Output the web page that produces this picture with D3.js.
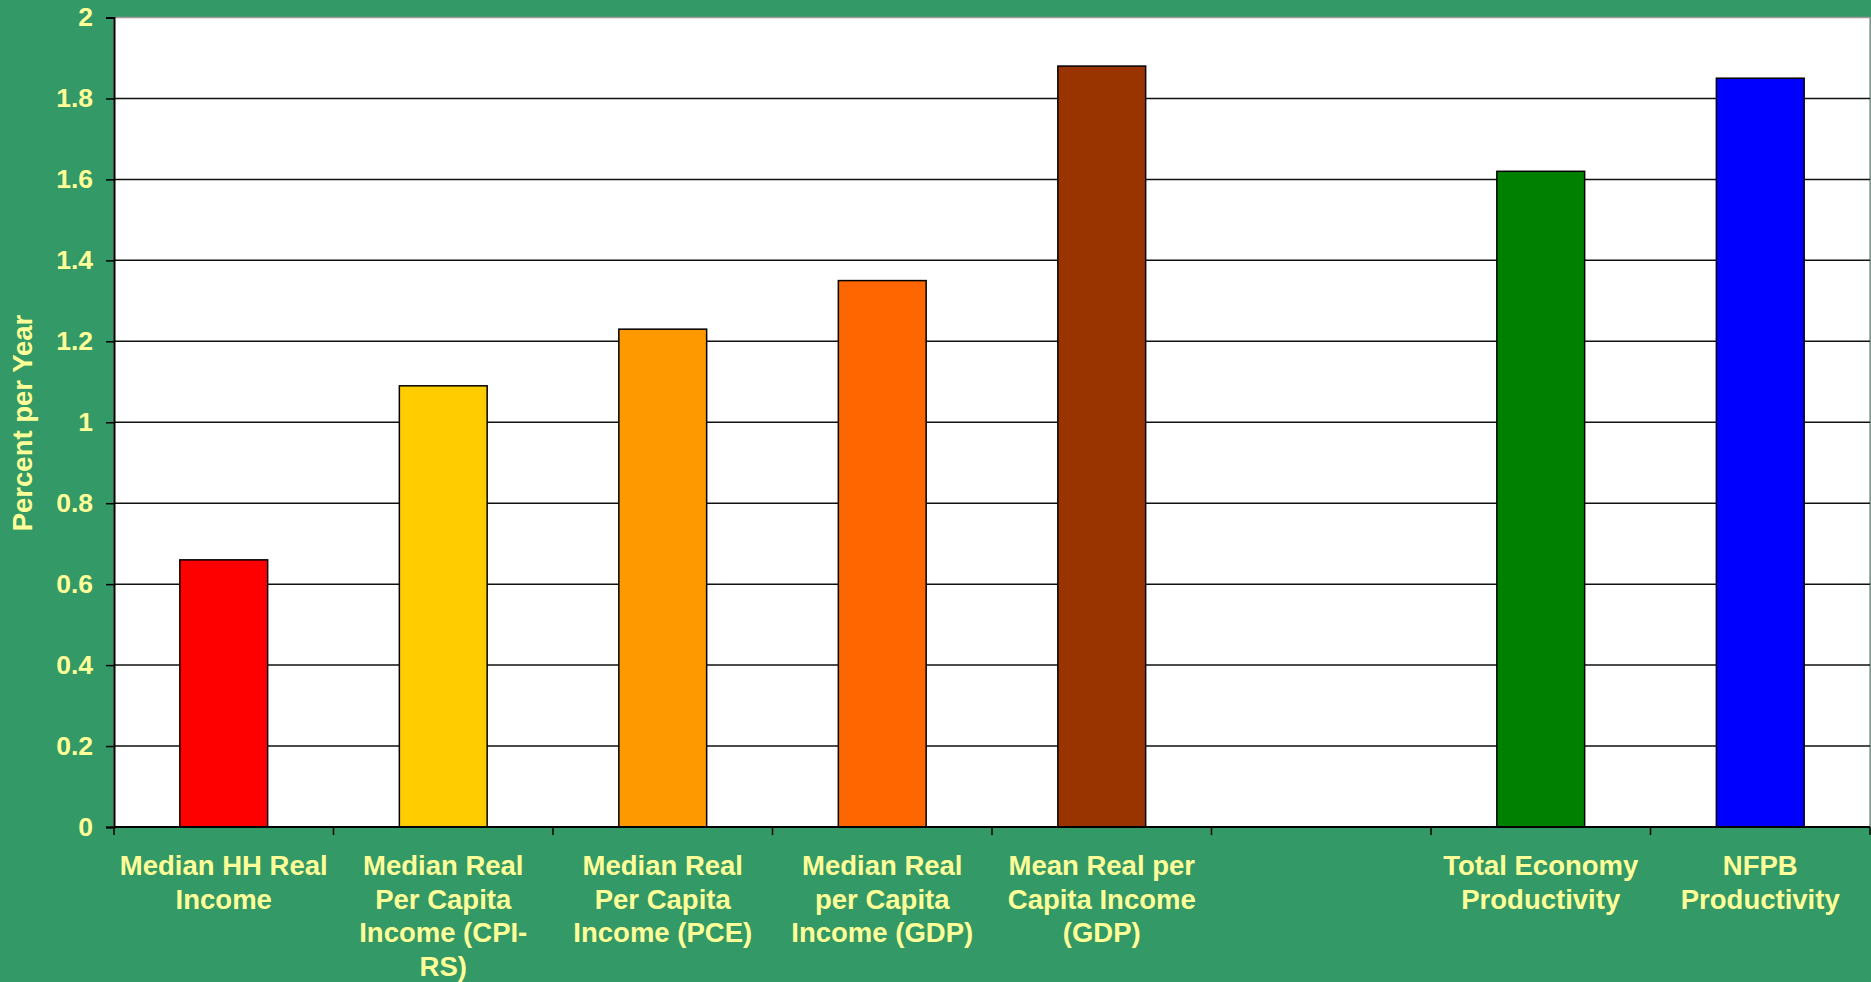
<!DOCTYPE html>
<html>
<head>
<meta charset="utf-8">
<script src="https://cdn.jsdelivr.net/npm/d3@7"></script>
<style>
  html, body { margin: 0; padding: 0; background: #339966; }
  svg { display: block; }
  text { font-family: "Liberation Sans", Arial, sans-serif; font-weight: bold; fill: #FFFF99; }
</style>
</head>
<body>
<svg id="chart"></svg>
<script>
const width = 1871;
const height = 982;

// categories (line breaks as in the original), values, bar colours
const categories = [
    "Median HH Real\nIncome",
    "Median Real\nPer Capita\nIncome (CPI-\nRS)",
    "Median Real\nPer Capita\nIncome (PCE)",
    "Median Real\nper Capita\nIncome (GDP)",
    "Mean Real per\nCapita Income\n(GDP)",
    "",
    "Total Economy\nProductivity",
    "NFPB\nProductivity"
];
const values = [0.66, 1.09, 1.23, 1.35, 1.88, null, 1.62, 1.85];
const colors = ["#FF0000", "#FFCC00", "#FF9900", "#FF6600", "#993300", null, "#008000", "#0000FF"];
const yTicks = [0, 0.2, 0.4, 0.6, 0.8, 1, 1.2, 1.4, 1.6, 1.8, 2];

const margin = { top: 17.5, right: 1, bottom: 155, left: 114 };

const svg = d3.select("#chart")
    .attr("width", width)
    .attr("height", height);

const x = d3.scaleBand()
    .domain(d3.range(categories.length))
    .range([margin.left, width - margin.right])
    .padding(0);

const y = d3.scaleLinear()
    .domain([0, 2])
    .range([height - margin.bottom, margin.top]);

// plot area
svg.append("rect")
    .attr("x", margin.left)
    .attr("y", margin.top)
    .attr("width", width - margin.right - margin.left)
    .attr("height", y(0) - margin.top)
    .attr("fill", "#fff")
    .attr("stroke", "#999")
    .attr("stroke-width", 1.5);

// gridlines
svg.append("g")
    .selectAll("line")
    .data(yTicks.filter(d => d > 0 && d < 2))
    .enter()
    .append("line")
    .attr("x1", margin.left)
    .attr("x2", width - margin.right)
    .attr("y1", d => y(d))
    .attr("y2", d => y(d))
    .attr("stroke", "#111")
    .attr("stroke-width", 1.5);

// bars
const barW = x.bandwidth() * 0.4;
svg.append("g")
    .selectAll("rect")
    .data(values.map((v, i) => ({ v, i })).filter(d => d.v !== null))
    .enter()
    .append("rect")
    .attr("x", d => x(d.i) + (x.bandwidth() - barW) / 2)
    .attr("y", d => y(d.v))
    .attr("width", barW)
    .attr("height", d => y(0) - y(d.v))
    .attr("fill", d => colors[d.i])
    .attr("stroke", "#000")
    .attr("stroke-width", 1.5);

// y axis
const yAxis = svg.append("g")
    .attr("transform", `translate(${margin.left},0)`)
    .call(d3.axisLeft(y)
        .tickValues(yTicks)
        .tickSize(8)
        .tickPadding(13)
        .tickFormat(d => String(+d.toFixed(1))));
yAxis.select(".domain").attr("stroke", "#000").attr("stroke-width", 2);
yAxis.selectAll(".tick line").attr("stroke", "#000").attr("stroke-width", 1.5);
yAxis.selectAll(".tick text")
    .attr("font-size", 26.5)
    .attr("fill", "#FFFF99")
    .style("font-family", "'Liberation Sans', Arial, sans-serif")
    .style("font-weight", "bold");

// x axis line with category boundary ticks
const xBase = y(0);
svg.append("line")
    .attr("x1", margin.left)
    .attr("x2", width - margin.right)
    .attr("y1", xBase)
    .attr("y2", xBase)
    .attr("stroke", "#000")
    .attr("stroke-width", 2);

svg.append("g")
    .selectAll("line")
    .data(d3.range(categories.length + 1))
    .enter()
    .append("line")
    .attr("x1", i => i < categories.length ? x(i) : width - margin.right)
    .attr("x2", i => i < categories.length ? x(i) : width - margin.right)
    .attr("y1", xBase)
    .attr("y2", xBase + 8)
    .attr("stroke", "#000")
    .attr("stroke-width", 1.5);

// category labels
const labels = svg.append("g")
    .selectAll("text")
    .data(categories.map((c, i) => ({ c, i })))
    .enter()
    .append("text")
    .attr("text-anchor", "middle")
    .attr("font-size", 27.5)
    .attr("x", d => x(d.i) + x.bandwidth() / 2)
    .attr("y", xBase + 48);

labels.selectAll("tspan")
    .data(d => d.c.split("\n").map(line => ({ line, cx: x(d.i) + x.bandwidth() / 2 })))
    .enter()
    .append("tspan")
    .attr("x", d => d.cx)
    .attr("dy", (d, j) => j === 0 ? 0 : 33.5)
    .text(d => d.line);

// y axis title
svg.append("text")
    .attr("transform", `translate(32,423) rotate(-90)`)
    .attr("text-anchor", "middle")
    .attr("font-size", 27.5)
    .text("Percent per Year");
</script>
</body>
</html>
